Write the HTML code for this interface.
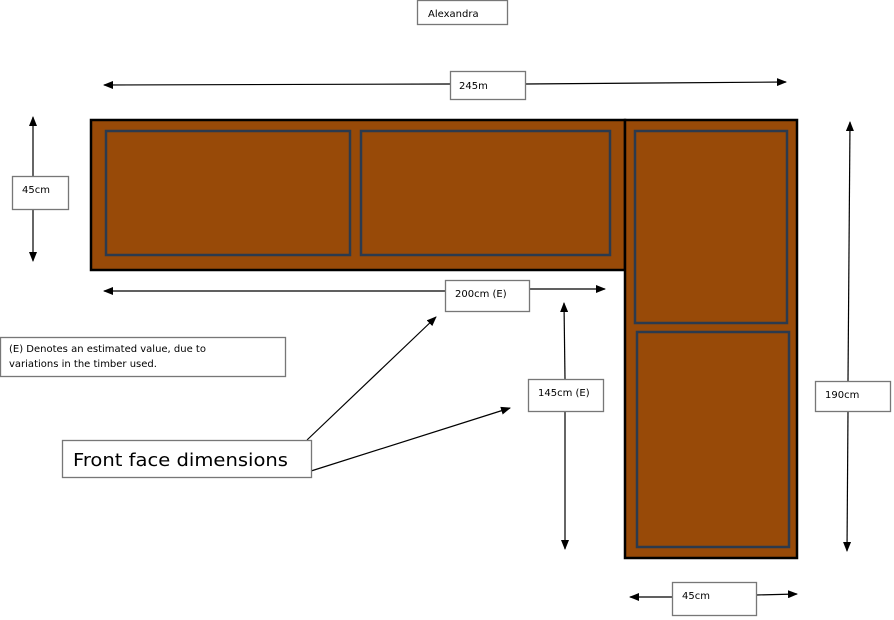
<!DOCTYPE html>
<html><head><meta charset="utf-8"><style>
html,body{margin:0;padding:0;background:#fff;width:894px;height:620px;overflow:hidden}
svg{display:block}
text{font-family:"DejaVu Sans","Liberation Sans",sans-serif;fill:#000}
</style></head><body>
<svg width="894" height="620" viewBox="0 0 894 620" xmlns="http://www.w3.org/2000/svg">
<defs>
<marker id="a" markerWidth="10" markerHeight="8" refX="9" refY="4" orient="auto" markerUnits="userSpaceOnUse">
<path d="M0,0 L10,4 L0,8 z" fill="#000"/></marker>
</defs>
<g fill="#fff" stroke="#777" stroke-width="1.3">
<rect x="417.5" y="0.5" width="90" height="24"/>
</g>
<text x="428" y="17" font-size="10">Alexandra</text>

<rect x="91" y="120" width="534" height="150" fill="#984a08" stroke="#000" stroke-width="2.5"/>
<rect x="625" y="120" width="172" height="438" fill="#984a08" stroke="#000" stroke-width="2.5"/>
<g fill="none" stroke="#2b3a4e" stroke-width="2.5">
<rect x="106" y="131" width="244" height="124"/>
<rect x="361" y="131" width="249" height="124"/>
<rect x="635" y="131" width="152" height="192"/>
<rect x="637" y="332" width="152" height="215"/>
</g>

<g stroke="#000" stroke-width="1.2" fill="none">
<line x1="450" y1="84" x2="104" y2="85" marker-end="url(#a)"/>
<line x1="525" y1="84" x2="786" y2="82" marker-end="url(#a)"/>
<line x1="33" y1="176" x2="33" y2="117" marker-end="url(#a)"/>
<line x1="33" y1="209" x2="33" y2="261" marker-end="url(#a)"/>
<line x1="445" y1="291" x2="104" y2="291" marker-end="url(#a)"/>
<line x1="529" y1="289" x2="605" y2="289" marker-end="url(#a)"/>
<line x1="565" y1="379" x2="564" y2="303" marker-end="url(#a)"/>
<line x1="565" y1="411" x2="565" y2="549" marker-end="url(#a)"/>
<line x1="848" y1="381" x2="850" y2="122" marker-end="url(#a)"/>
<line x1="848" y1="411" x2="847" y2="551" marker-end="url(#a)"/>
<line x1="672" y1="597" x2="630" y2="597" marker-end="url(#a)"/>
<line x1="756" y1="595" x2="797" y2="594" marker-end="url(#a)"/>
<line x1="307" y1="440" x2="436" y2="317" marker-end="url(#a)"/>
<line x1="311" y1="471" x2="510" y2="408" marker-end="url(#a)"/>
</g>

<g fill="#fff" stroke="#777" stroke-width="1.3">
<rect x="450.5" y="71.5" width="75" height="28"/>
<rect x="12.5" y="176.5" width="56" height="33"/>
<rect x="445.5" y="280.5" width="84" height="31"/>
<rect x="528.5" y="379.5" width="75" height="32"/>
<rect x="815.5" y="381.5" width="75" height="30"/>
<rect x="672.5" y="582.5" width="84" height="33"/>
<rect x="0.5" y="337.5" width="285" height="39"/>
<rect x="62.5" y="440.5" width="249" height="37"/>
</g>
<g font-size="10">
<text x="459" y="89">245m</text>
<text x="22" y="193">45cm</text>
<text x="455" y="297">200cm (E)</text>
<text x="538" y="396">145cm (E)</text>
<text x="825" y="398">190cm</text>
<text x="682" y="599">45cm</text>
<text x="9" y="352">(E) Denotes an estimated value, due to</text>
<text x="9" y="367">variations in the timber used.</text>
</g>
<text x="73" y="466" font-size="18" textLength="215" lengthAdjust="spacingAndGlyphs">Front face dimensions</text>
</svg>
</body></html>
